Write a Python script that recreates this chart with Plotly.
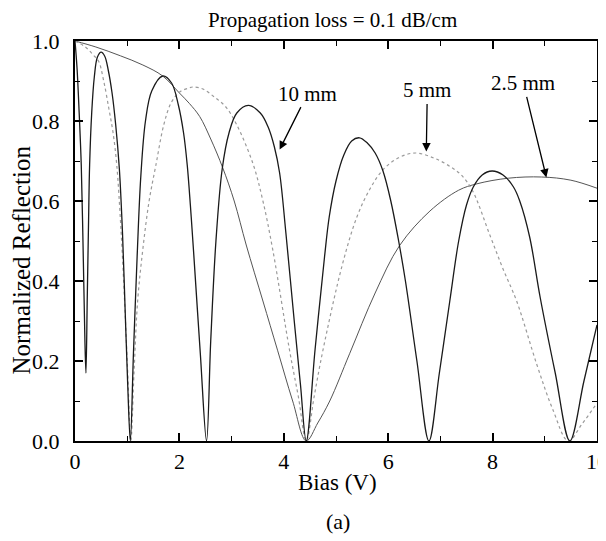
import plotly.graph_objects as go

# ---- data ----
bias_10mm = [0, 0.04, 0.08, 0.12, 0.16, 0.19, 0.21, 0.235, 0.26, 0.28, 0.32, 0.37, 0.43, 0.50, 0.57, 0.64,
             0.71, 0.78, 0.85, 0.91, 0.96, 1.01, 1.06, 1.12, 1.19, 1.26, 1.35, 1.47, 1.68, 1.85, 1.98, 2.08,
             2.15, 2.21, 2.27, 2.40, 2.52, 2.60, 2.70, 2.82, 2.95, 3.10, 3.32, 3.55, 3.70, 3.82, 3.92, 4.04,
             4.20, 4.32, 4.43, 4.60, 4.78, 4.87, 5.00, 5.15, 5.30, 5.45, 5.60, 5.75, 5.90, 6.05, 6.20, 6.33,
             6.55, 6.78, 6.98, 7.18, 7.35, 7.50, 7.63, 7.80, 7.99, 8.20, 8.40, 8.52, 8.71, 8.91, 9.20, 9.48,
             9.75, 10.0]
refl_10mm = [1.0, 0.93, 0.82, 0.69, 0.45, 0.25, 0.17, 0.36, 0.55, 0.69, 0.82, 0.91, 0.96, 0.972, 0.962, 0.925,
             0.87, 0.79, 0.68, 0.52, 0.33, 0.14, 0.0, 0.22, 0.46, 0.66, 0.80, 0.875, 0.9125, 0.895, 0.84, 0.77,
             0.69, 0.59, 0.477, 0.22, 0.0, 0.25, 0.50, 0.68, 0.77, 0.82, 0.839, 0.82, 0.785, 0.735, 0.67, 0.52,
             0.30, 0.14, 0.0, 0.23, 0.46, 0.56, 0.65, 0.715, 0.75, 0.758, 0.745, 0.72, 0.675, 0.60, 0.50, 0.40,
             0.20, 0.0, 0.17, 0.35, 0.50, 0.59, 0.635, 0.665, 0.675, 0.665, 0.635, 0.60, 0.51, 0.36, 0.17, 0.0,
             0.15, 0.29]

bias_5mm = [0, 0.2, 0.35, 0.45, 0.55, 0.65, 0.73, 0.80, 0.88, 0.95, 1.01, 1.07, 1.13, 1.20, 1.30, 1.42,
            1.55, 1.70, 1.84, 2.00, 2.17, 2.26, 2.45, 2.65, 2.89, 3.10, 3.41, 3.60, 3.79, 4.11, 4.28,
            4.43, 4.58, 4.75, 5.12, 5.40, 5.65, 5.90, 6.20, 6.52, 6.90, 7.20, 7.40, 7.61, 7.95, 8.20, 8.46,
            8.85, 9.15, 9.45, 9.70, 10.0]
refl_5mm = [1.0, 0.985, 0.965, 0.95, 0.90, 0.83, 0.77, 0.69, 0.53, 0.35, 0.17, 0.0, 0.17, 0.35, 0.48, 0.60,
            0.69, 0.79, 0.845, 0.872, 0.882, 0.885, 0.88, 0.862, 0.835, 0.79, 0.693, 0.60, 0.477, 0.227, 0.11,
            0.0, 0.11, 0.227, 0.44, 0.56, 0.63, 0.678, 0.708, 0.72, 0.706, 0.685, 0.665, 0.627, 0.514, 0.43, 0.35,
            0.19, 0.08, 0.0, 0.04, 0.095]

bias_2p5mm = [0, 0.4, 0.87, 1.3, 1.68, 2.0, 2.19, 2.39, 2.6, 2.83, 3.05, 3.28, 3.6, 3.88, 4.17,
              4.43, 4.65, 4.88, 5.26, 5.75, 6.22, 6.8, 7.35, 7.70, 8.3, 8.94, 9.5, 10.0]
refl_2p5mm = [1.0, 0.985, 0.963, 0.94, 0.9125, 0.87, 0.844, 0.811, 0.755, 0.683, 0.6, 0.49, 0.35, 0.227, 0.10,
              0.0, 0.045, 0.10, 0.218, 0.37, 0.489, 0.575, 0.627, 0.643, 0.657, 0.66, 0.652, 0.632]

x_ticks = [0, 2, 4, 6, 8, 10]
y_ticks = [0.0, 0.2, 0.4, 0.6, 0.8, 1.0]

title_text = "Propagation loss = 0.1 dB/cm"
x_title = "Bias (V)"
y_title = "Normalized Reflection"
panel_label = "(a)"

FONT = "Liberation Serif"

fig = go.Figure()
fig.add_trace(go.Scatter(x=bias_2p5mm, y=refl_2p5mm, mode="lines", name="2.5 mm",
                         line=dict(color="#555555", width=1, shape="spline", smoothing=1.0)))
fig.add_trace(go.Scatter(x=bias_5mm, y=refl_5mm, mode="lines", name="5 mm",
                         line=dict(color="#9a9a9a", width=1.2, dash="dot", shape="spline", smoothing=1.0)))
fig.add_trace(go.Scatter(x=bias_10mm, y=refl_10mm, mode="lines", name="10 mm",
                         line=dict(color="#1a1a1a", width=1.3, shape="spline", smoothing=1.0)))

axis_common = dict(showline=True, linecolor="black", linewidth=2, mirror="ticks",
                   ticks="inside", ticklen=8, tickwidth=1.6, tickcolor="black",
                   showgrid=False, zeroline=False, ticklabeloverflow="allow",
                   tickfont=dict(family=FONT, size=22, color="black"))

fig.update_xaxes(range=[0, 10], tickvals=x_ticks, ticktext=[str(v) for v in x_ticks],
                 minor=dict(ticks="inside", dtick=1, ticklen=5, tickwidth=1.2, tickcolor="black"),
                 **axis_common)
fig.update_yaxes(range=[0, 1], tickvals=y_ticks, ticktext=[f"{v:.1f}" for v in y_ticks],
                 ticklabelstandoff=9,
                 minor=dict(ticks="inside", dtick=0.1, ticklen=5, tickwidth=1.2, tickcolor="black"),
                 **axis_common)

ann_font = dict(family=FONT, size=21, color="black")
annotations = [
    dict(text=title_text, xref="paper", yref="paper", x=0.494, y=1.052, xanchor="center", yanchor="middle",
         showarrow=False, font=ann_font),
    dict(text=x_title, xref="paper", yref="paper", x=0.503, y=-0.1025, xanchor="center", yanchor="middle",
         showarrow=False, font=dict(family=FONT, size=23, color="black")),
    dict(text=y_title, xref="paper", yref="paper", x=-0.103, y=0.452, xanchor="center", yanchor="middle",
         textangle=-90, showarrow=False, font=dict(family=FONT, size=25, color="black")),
    dict(text=panel_label, xref="paper", yref="paper", x=0.503, y=-0.2, xanchor="center", yanchor="middle",
         showarrow=False, font=dict(family=FONT, size=22, color="black")),
    dict(text="10 mm", x=3.92, y=0.7285, ax=28, ay=-56, showarrow=True, arrowhead=2, arrowsize=1.3,
         arrowwidth=1.3, arrowcolor="black", font=ann_font),
    dict(text="5 mm", x=6.73, y=0.724, ax=1, ay=-61, showarrow=True, arrowhead=2, arrowsize=1.3,
         arrowwidth=1.3, arrowcolor="black", font=ann_font),
    dict(text="2.5 mm", x=9.03, y=0.659, ax=-23, ay=-94, showarrow=True, arrowhead=2, arrowsize=1.3,
         arrowwidth=1.3, arrowcolor="black", font=ann_font),
]

# the page body adds an 8 px offset, so the figure is 8 px smaller and shifted accordingly
fig.update_layout(width=598, height=533, margin=dict(l=67, r=9, t=33, b=100, autoexpand=False),
                  paper_bgcolor="white", plot_bgcolor="white", showlegend=False,
                  font=dict(family=FONT, color="black"),
                  annotations=annotations)

fig.write_html("out.html")
